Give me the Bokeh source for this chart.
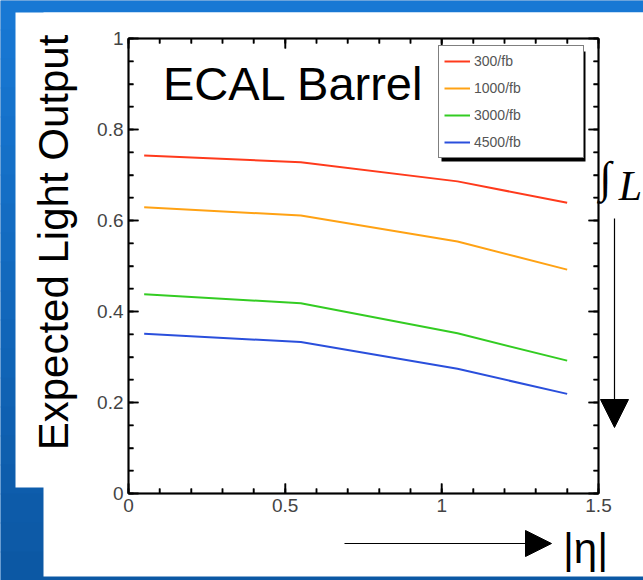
import math
from bokeh.plotting import figure
from bokeh.models import (Range1d, FixedTicker, LinearAxis, Legend, LegendItem,
                          Label, Arrow, NormalHead, BoxAnnotation)
from bokeh.embed import file_html
from bokeh.resources import INLINE

# ---- data ----
eta = [0.05, 0.55, 1.05, 1.4]
lumi_labels = ["300/fb", "1000/fb", "3000/fb", "4500/fb"]
light_300 = [0.743, 0.728, 0.686, 0.639]
light_1000 = [0.629, 0.611, 0.554, 0.492]
light_3000 = [0.438, 0.418, 0.352, 0.292]
light_4500 = [0.351, 0.333, 0.274, 0.219]
series = [light_300, light_1000, light_3000, light_4500]
colors = ["#ff3a1c", "#ffa214", "#33cc22", "#2a4fdc"]

x_major = [0, 0.5, 1, 1.5]
x_minor = [i / 10 for i in range(0, 16)]
y_major = [0, 0.2, 0.4, 0.6, 0.8, 1]
y_minor = [i / 20 for i in range(0, 21)]
x_tick_labels = {0: "0", 0.5: "0.5", 1: "1", 1.5: "1.5"}
y_tick_labels = {0: "0", 0.2: "0.2", 0.4: "0.4", 0.6: "0.6", 0.8: "0.8", 1: "1"}

# ---- layout (pixels) ----
W, H = 643, 580
FL, FR, FT, FB = 128, 598, 38, 493       # plot box in canvas pixels
XMIN, XMAX, YMIN, YMAX = 0.0, 1.5, 0.0, 1.0
sx = (FR - FL) / (XMAX - XMIN)
sy = (FB - FT) / (YMAX - YMIN)
x_range = Range1d(XMIN - FL / sx, XMAX + (W - FR) / sx)
y_range = Range1d(YMIN - (H - FB) / sy, YMAX + FT / sy)
MAJ, MIN = 10, 5                           # tick lengths in pixels

p = figure(width=W, height=H, output_backend="svg", toolbar_location=None,
           x_range=x_range, y_range=y_range,
           x_axis_location=None, y_axis_location=None,
           min_border=0, min_border_left=0, min_border_right=0,
           min_border_top=0, min_border_bottom=0)
p.grid.visible = False
p.outline_line_color = None
p.border_fill_color = "#1268c0"
p.background_fill_color = "#1268c0"

# blue background gradient (bands) and white panel
top_c = (0x18, 0x78, 0xd4)
bot_c = (0x0c, 0x58, 0xa4)
NB = 20
for i in range(NB):
    t = i / (NB - 1)
    c = tuple(int(round(a + (b - a) * t)) for a, b in zip(top_c, bot_c))
    p.add_layout(BoxAnnotation(left=0, right=W, top=H * i / NB, bottom=H * (i + 1) / NB + 1,
                               left_units="canvas", right_units="canvas",
                               top_units="canvas", bottom_units="canvas",
                               fill_color="#%02x%02x%02x" % c, fill_alpha=1,
                               line_alpha=0, level="underlay"))
p.add_layout(BoxAnnotation(left=15, right=W, top=12, bottom=487,
                           left_units="canvas", right_units="canvas",
                           top_units="canvas", bottom_units="canvas",
                           fill_color="white", fill_alpha=1, line_alpha=0,
                           level="underlay"))
p.add_layout(BoxAnnotation(left=43, right=W, top=12, bottom=576,
                           left_units="canvas", right_units="canvas",
                           top_units="canvas", bottom_units="canvas",
                           fill_color="white", fill_alpha=1, line_alpha=0,
                           level="underlay"))
# plot frame box
p.add_layout(BoxAnnotation(left=XMIN, right=XMAX, bottom=YMIN, top=YMAX,
                           fill_alpha=0, line_color="#000000", line_width=2,
                           level="overlay"))

def style_axis(ax, labels=None):
    ax.axis_line_color = "#000000"
    ax.axis_line_width = 2
    ax.major_tick_in = MAJ
    ax.major_tick_out = 0
    ax.minor_tick_in = MIN
    ax.minor_tick_out = 0
    ax.major_tick_line_color = "#000000"
    ax.minor_tick_line_color = "#000000"
    ax.major_tick_line_width = 1.5
    ax.minor_tick_line_width = 1.5
    ax.major_label_text_font = "Liberation Sans"
    ax.major_label_text_font_size = "19px"
    ax.major_label_text_color = "#444444"
    if labels is None:
        ax.major_label_text_alpha = 0
    else:
        ax.major_label_overrides = labels

xb = LinearAxis(ticker=FixedTicker(ticks=x_major, minor_ticks=x_minor),
                fixed_location=YMIN, bounds=(XMIN, XMAX))
style_axis(xb, x_tick_labels)
xb.major_label_standoff = 5
p.add_layout(xb, "below")
xt = LinearAxis(ticker=FixedTicker(ticks=x_major, minor_ticks=x_minor),
                fixed_location=YMAX, bounds=(XMIN, XMAX))
style_axis(xt)
p.add_layout(xt, "above")
yl = LinearAxis(ticker=FixedTicker(ticks=y_major, minor_ticks=y_minor),
                fixed_location=XMIN, bounds=(YMIN, YMAX))
style_axis(yl, y_tick_labels)
yl.major_label_standoff = 5
p.add_layout(yl, "left")
yr = LinearAxis(ticker=FixedTicker(ticks=y_major, minor_ticks=y_minor),
                fixed_location=XMAX, bounds=(YMIN, YMAX))
style_axis(yr)
p.add_layout(yr, "right")

# inward tick marks on all four sides, from the tick arrays
def ticks_x(vals, length):
    n = len(vals)
    p.segment(x0=vals, y0=[YMIN] * n, x1=vals, y1=[YMIN + length / sy] * n,
              line_color="black", line_width=1.5)
    p.segment(x0=vals, y0=[YMAX] * n, x1=vals, y1=[YMAX - length / sy] * n,
              line_color="black", line_width=1.5)

def ticks_y(vals, length):
    n = len(vals)
    p.segment(x0=[XMIN] * n, y0=vals, x1=[XMIN + length / sx] * n, y1=vals,
              line_color="black", line_width=1.5)
    p.segment(x0=[XMAX] * n, y0=vals, x1=[XMAX - length / sx] * n, y1=vals,
              line_color="black", line_width=1.5)

ticks_x(x_minor, MIN)
ticks_x(x_major, MAJ)
ticks_y(y_minor, MIN)
ticks_y(y_major, MAJ)

items = []
for vals, c, lab in zip(series, colors, lumi_labels):
    r = p.line(eta, vals, line_color=c, line_width=2)
    items.append(LegendItem(label=lab, renderers=[r]))

# legend shadow
p.add_layout(BoxAnnotation(left=441, right=585, top=51, bottom=161,
                           left_units="canvas", right_units="canvas",
                           top_units="canvas", bottom_units="canvas",
                           fill_color="black", fill_alpha=1, line_alpha=0))
leg = Legend(items=items, location=(438, H - 158), orientation="vertical",
             border_line_color="black", border_line_width=1,
             background_fill_color="white", background_fill_alpha=1,
             label_text_font="Liberation Sans", label_text_font_size="14px",
             label_text_color="#555555", glyph_width=26, glyph_height=20,
             label_height=20, label_width=104, spacing=7, padding=5,
             label_standoff=4, margin=0)
p.add_layout(leg, "center")

p.add_layout(Label(x=0.11, y=0.902, text="ECAL Barrel",
                   text_font="Liberation Sans", text_font_size="47px",
                   text_color="black", text_baseline="alphabetic"))

p.add_layout(Label(x=53, y=242, x_units="canvas", y_units="canvas",
                   text="Expected Light Output", angle=math.pi / 2,
                   text_font="Liberation Sans", text_font_size="42px",
                   text_color="black", text_align="center",
                   text_baseline="middle"))

p.add_layout(Arrow(x_start=344, y_start=543, x_end=551, y_end=543,
                   start_units="canvas", end_units="canvas",
                   line_color="black", line_width=1.2,
                   end=NormalHead(size=26, fill_color="black",
                                  line_color="black")))
p.add_layout(Label(x=585, y=548, x_units="canvas", y_units="canvas",
                   text="|η|", text_font="Liberation Sans",
                   text_font_size="42px", text_color="black",
                   text_align="center", text_baseline="alphabetic"))

p.add_layout(Arrow(x_start=614, y_start=218, x_end=614, y_end=427,
                   start_units="canvas", end_units="canvas",
                   line_color="black", line_width=1.2,
                   end=NormalHead(size=28, fill_color="black",
                                  line_color="black")))
p.add_layout(Label(x=605, y=177, x_units="canvas", y_units="canvas",
                   text="∫", text_font="Liberation Serif",
                   text_font_size="44px", text_color="black",
                   text_align="center", text_baseline="alphabetic"))
p.add_layout(Label(x=630, y=185, x_units="canvas", y_units="canvas",
                   text="L", text_font="Liberation Serif",
                   text_font_style="italic",
                   text_font_size="42px", text_color="black",
                   text_align="center", text_baseline="alphabetic"))

open("out.html", "w").write(file_html(p, INLINE))
